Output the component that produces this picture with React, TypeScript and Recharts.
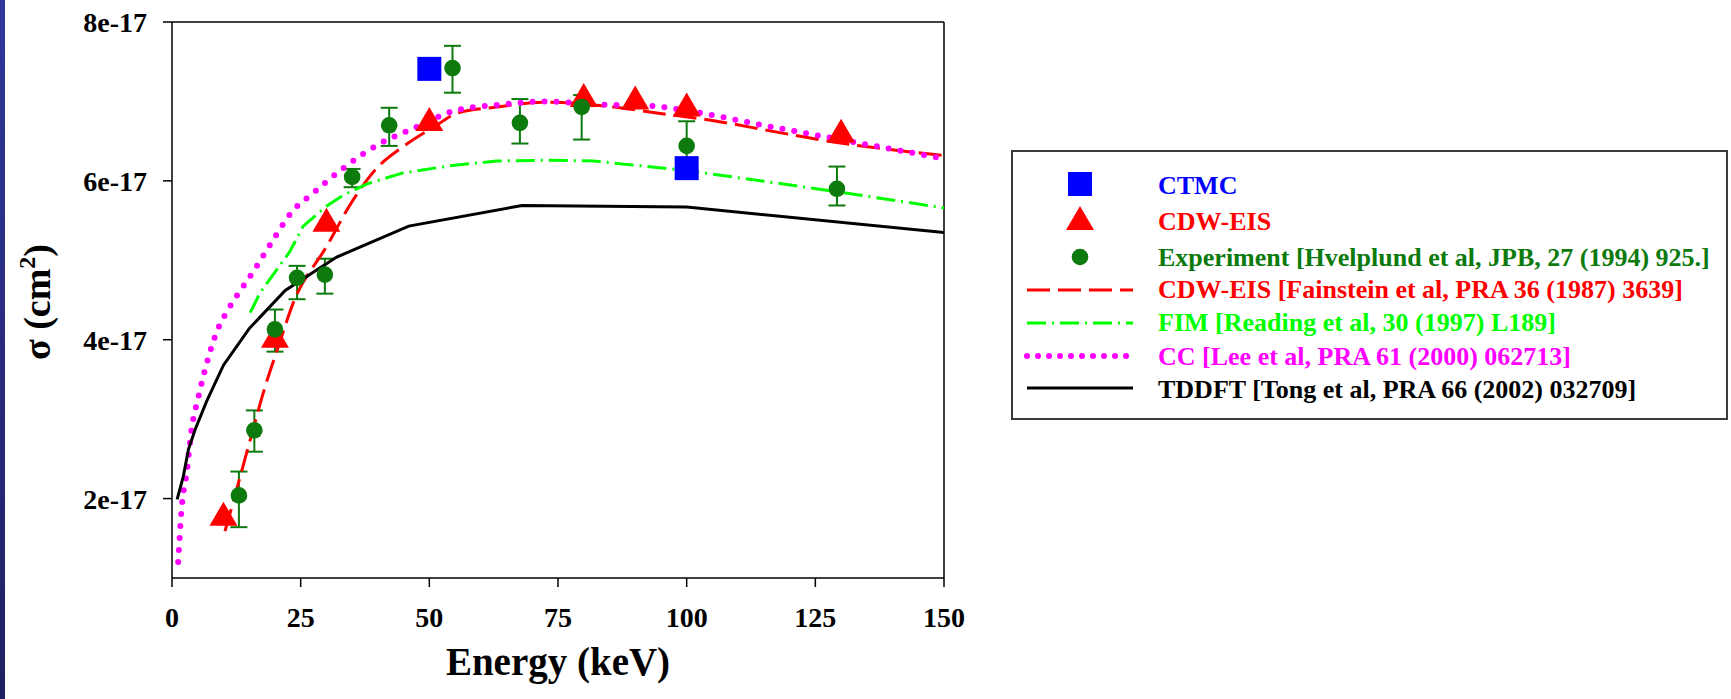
import React from 'react';
import { ComposedChart, Line, Scatter, XAxis, YAxis, ErrorBar, ReferenceLine, Label } from 'recharts';

const FONT = '"Liberation Serif", "Times New Roman", serif';
const DARK_GREEN = '#0c7a0c';
const FIM_GREEN = '#00ff00';

// energies in keV, cross sections in units of 1e-17 cm^2
const xTicks = [0, 25, 50, 75, 100, 125, 150];
const yTicks = [2, 4, 6, 8];

const ctmcEnergy = [50, 100];
const ctmcSigma = [7.41, 6.16];

const cdwEnergy = [10, 20, 30, 50, 80, 90, 100, 130];
const cdwSigma = [1.81, 4.05, 5.51, 6.78, 7.08, 7.05, 6.96, 6.63];

const expEnergy = [13, 16, 20, 24.3, 29.7, 35, 42.2, 54.5, 67.6, 79.6, 100, 129.2];
const expSigma = [2.04, 2.86, 4.13, 4.78, 4.82, 6.05, 6.7, 7.42, 6.73, 6.93, 6.44, 5.9];
const expErrLow = [0.4, 0.27, 0.28, 0.27, 0.24, 0.13, 0.26, 0.31, 0.26, 0.41, 0.24, 0.21];
const expErrHigh = [0.3, 0.25, 0.25, 0.15, 0.2, 0.1, 0.22, 0.28, 0.3, 0.15, 0.31, 0.28];

// CDW-EIS [Fainstein et al]
const fainsteinEnergy = [10.3, 12.2, 15.2, 18.1, 20.7, 23.6, 30, 35.2, 39.8, 44.9, 51.4, 55.3, 63.1, 73, 87, 93.5, 105, 117, 128.5, 150];
const fainsteinSigma = [1.59, 2.03, 2.74, 3.41, 3.92, 4.47, 5.17, 5.76, 6.16, 6.43, 6.7, 6.85, 6.93, 6.99, 6.92, 6.86, 6.76, 6.62, 6.49, 6.32];

// FIM [Reading et al]
const fimEnergy = [15.2, 17.1, 22.9, 25.5, 30, 33.3, 37.8, 44.9, 54, 63.1, 72.8, 81.9, 90.9, 100, 115.5, 128.5, 150];
const fimSigma = [4.34, 4.59, 5.11, 5.43, 5.68, 5.82, 5.96, 6.1, 6.19, 6.25, 6.26, 6.25, 6.19, 6.13, 5.99, 5.87, 5.66];

// CC [Lee et al]
const ccEnergy = [1.2, 1.9, 2.85, 3.8, 5.1, 6.7, 8.7, 10.9, 13.5, 15.2, 19, 23.3, 27.5, 33.9, 40.4, 46.9, 55.3, 63.7, 72.8, 83.2, 91.6, 100.3, 114.9, 129.8, 150];
const ccSigma = [1.2, 1.9, 2.32, 2.87, 3.27, 3.69, 4.1, 4.38, 4.64, 4.8, 5.19, 5.61, 5.85, 6.19, 6.47, 6.66, 6.89, 6.96, 7.0, 6.96, 6.95, 6.88, 6.7, 6.52, 6.28];

// TDDFT [Tong et al]
const tddftEnergy = [1, 2.2, 3.2, 4.5, 6.7, 10, 15, 22, 32, 46, 68, 100, 150];
const tddftSigma = [1.99, 2.28, 2.62, 2.87, 3.22, 3.68, 4.14, 4.62, 5.04, 5.43, 5.69, 5.67, 5.35];

const zip = (xs: number[], ys: number[]) => xs.map((x, i) => ({ x, y: ys[i] }));

const ctmcData = zip(ctmcEnergy, ctmcSigma);
const cdwData = zip(cdwEnergy, cdwSigma);
const expData = expEnergy.map((x, i) => ({ x, y: expSigma[i], err: [expErrLow[i], expErrHigh[i]] }));
const fainsteinData = zip(fainsteinEnergy, fainsteinSigma);
const fimData = zip(fimEnergy, fimSigma);
const ccData = zip(ccEnergy, ccSigma);
const tddftData = zip(tddftEnergy, tddftSigma);

const SquareDot = (props: any) => {
  const { cx, cy } = props;
  return <rect x={cx - 12} y={cy - 12} width={24} height={24} fill="#0000ff" />;
};

const TriangleDot = (props: any) => {
  const { cx, cy } = props;
  return <polygon points={`${cx},${cy - 12} ${cx + 14},${cy + 12} ${cx - 14},${cy + 12}`} fill="#ff0000" />;
};

const CircleDot = (props: any) => {
  const { cx, cy } = props;
  return <circle cx={cx} cy={cy} r={8.3} fill={DARK_GREEN} />;
};

const tickStyle = { fontSize: 28, fontWeight: 'bold', fontFamily: FONT, fill: '#000' };
const axisStroke = { stroke: '#000', strokeWidth: 1.5 };

const XTitle = (props: any) => {
  const vb = props.viewBox || { x: 172, y: 578, width: 772, height: 121 };
  return (
    <text x={vb.x + vb.width / 2} y={vb.y + 97} textAnchor="middle" fontFamily={FONT} fontWeight="bold" fontSize={39} fill="#000">
      Energy (keV)
    </text>
  );
};

const YTitle = (props: any) => {
  const vb = props.viewBox || { x: 0, y: 22, width: 172, height: 556 };
  const x = vb.x + 50;
  const y = vb.y + vb.height / 2 + 2;
  return (
    <text x={x} y={y} transform={`rotate(-90 ${x} ${y})`} textAnchor="middle" fontFamily={FONT} fontWeight="bold" fontSize={38} fill="#000">
      σ (cm<tspan dy={-15} fontSize={24}>2</tspan><tspan dy={15}>)</tspan>
    </text>
  );
};

const legendRows = [
  { label: 'CTMC', color: '#0000ff', kind: 'square' },
  { label: 'CDW-EIS', color: '#ff0000', kind: 'triangle' },
  { label: 'Experiment [Hvelplund et al, JPB, 27 (1994) 925.]', color: DARK_GREEN, kind: 'circle' },
  { label: 'CDW-EIS [Fainstein et al, PRA 36 (1987) 3639]', color: '#ff0000', kind: 'dash' },
  { label: 'FIM [Reading et al, 30 (1997) L189]', color: FIM_GREEN, kind: 'dashdot' },
  { label: 'CC [Lee et al, PRA 61 (2000) 062713]', color: '#ff00ff', kind: 'dot' },
  { label: 'TDDFT [Tong et al, PRA 66 (2002) 032709]', color: '#000000', kind: 'solid' },
];
const legendBaselines = [194, 230, 266, 298, 331, 365, 398];
const legendMarkY = [184, 218, 257, 290, 323, 356, 388];

const LegendBox = () => {
  const sx = 1080;
  return (
    <svg width={1731} height={699} style={{ position: 'absolute', left: 0, top: 0, pointerEvents: 'none' }}>
      <rect x={1012} y={151} width={715} height={268} fill="#fff" stroke="#3a3a3a" strokeWidth={2} />
      {legendRows.map((row, i) => {
        const my = legendMarkY[i];
        let mark: React.ReactNode = null;
        if (row.kind === 'square') mark = <rect x={sx - 12} y={my - 12} width={24} height={24} fill={row.color} />;
        else if (row.kind === 'triangle') mark = <polygon points={`${sx},${my - 12} ${sx + 14},${my + 12} ${sx - 14},${my + 12}`} fill={row.color} />;
        else if (row.kind === 'circle') mark = <circle cx={sx} cy={my} r={8.3} fill={row.color} />;
        else {
          const dash = row.kind === 'dash' ? '23 8' : row.kind === 'dashdot' ? '19 6 2 6' : row.kind === 'dot' ? '0 11' : undefined;
          mark = (
            <line x1={1027} x2={1133} y1={my} y2={my} stroke={row.color} strokeWidth={row.kind === 'dot' ? 6 : 3}
              strokeDasharray={dash} strokeLinecap={row.kind === 'dot' ? 'round' : 'butt'} />
          );
        }
        return (
          <g key={row.label}>
            {mark}
            <text x={1158} y={legendBaselines[i]} fontFamily={FONT} fontWeight="bold" fontSize={26} fill={row.color}>
              {row.label}
            </text>
          </g>
        );
      })}
    </svg>
  );
};

export default function App() {
  return (
    <div style={{ position: 'absolute', left: 0, top: 0, width: 1731, height: 699, background: '#fff', overflow: 'hidden' }}>
      <ComposedChart width={1731} height={699} margin={{ top: 22, right: 787, bottom: 0, left: 0 }}>
        <XAxis
          type="number"
          dataKey="x"
          domain={[0, 150]}
          ticks={xTicks}
          interval={0}
          allowDataOverflow
          height={121}
          tickSize={9}
          tickMargin={20}
          axisLine={axisStroke}
          tickLine={axisStroke}
          tick={tickStyle}
        >
          <Label content={<XTitle />} />
        </XAxis>
        <YAxis
          type="number"
          dataKey="y"
          domain={[1, 8]}
          ticks={yTicks}
          interval={0}
          allowDataOverflow
          width={172}
          tickSize={9}
          tickMargin={16}
          axisLine={axisStroke}
          tickLine={axisStroke}
          tick={tickStyle}
          tickFormatter={(v: number) => `${v}e-17`}
        >
          <Label content={<YTitle />} />
        </YAxis>
        <ReferenceLine y={8} stroke="#000" strokeWidth={1.5} />
        <ReferenceLine x={150} stroke="#000" strokeWidth={1.5} />

        <Scatter data={ctmcData} shape={<SquareDot />} isAnimationActive={false} />
        <Scatter data={cdwData} shape={<TriangleDot />} isAnimationActive={false} />
        <Scatter data={expData} shape={<CircleDot />} isAnimationActive={false}>
          <ErrorBar dataKey="err" direction="y" width={8.5} stroke={DARK_GREEN} strokeWidth={2} />
        </Scatter>

        <Line data={fainsteinData} dataKey="y" type="monotone" stroke="#ff0000" strokeWidth={3} strokeDasharray="23 8" dot={false} activeDot={false} isAnimationActive={false} />
        <Line data={fimData} dataKey="y" type="linear" stroke={FIM_GREEN} strokeWidth={3} strokeDasharray="19 6 2 6" dot={false} activeDot={false} isAnimationActive={false} />
        <Line data={ccData} dataKey="y" type="monotone" stroke="#ff00ff" strokeWidth={6} strokeDasharray="0 12" strokeLinecap="round" dot={false} activeDot={false} isAnimationActive={false} />
        <Line data={tddftData} dataKey="y" type="linear" stroke="#000" strokeWidth={3} dot={false} activeDot={false} isAnimationActive={false} />
      </ComposedChart>
      <LegendBox />
      <div style={{ position: 'absolute', left: 0, top: 0, width: 5, height: 699, background: 'linear-gradient(#32379a, #1f2062)' }} />
    </div>
  );
}
